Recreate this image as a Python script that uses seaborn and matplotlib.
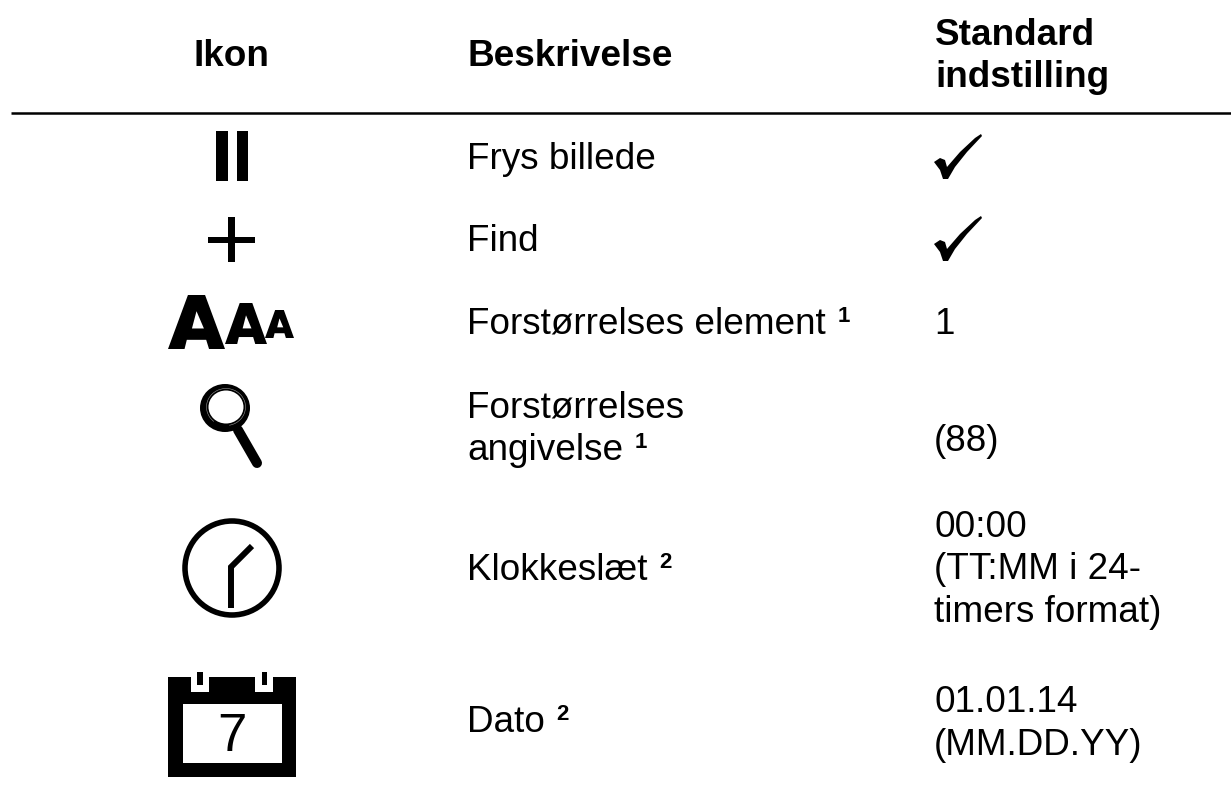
import seaborn as sns
import matplotlib.pyplot as plt
from matplotlib.patches import Rectangle, Circle, Ellipse, Arc, Polygon

# table content
headers = ['Ikon', 'Beskrivelse', 'Standard', 'indstilling']
descriptions = ['Frys billede', 'Find', 'Forstørrelses element', 'Forstørrelses', 'angivelse', 'Klokkeslæt', 'Dato']
footnotes = ['', '', '1', '', '1', '2', '2']
defaults = ['1', '(88)', '00:00', '(TT:MM i 24-', 'timers format)', '01.01.14', '(MM.DD.YY)']

# layout, baselines in pixels
desc_base = [169, 251, 334, 418, 460, 580, 732]
default_base = [334, 451, 537, 579, 622, 712, 755]
check_offsets = [0, 82]
check_shape = [[934, 162], [940, 158], [945, 160], [947, 167], [960, 152], [975, 138], [981, 134], [982, 136],
               [967, 152], [955, 167], [948, 179], [943, 179], [940, 170]]

sns.set_theme(style='white')
plt.rcParams['font.family'] = ['Liberation Sans', 'DejaVu Sans']

fig = plt.figure(figsize=(12.31, 7.86), dpi=100)
ax = fig.add_axes([0, 0, 1, 1])
ax.set_xlim(0, 1231)
ax.set_ylim(786, 0)
ax.axis('off')

sz = 26.6


def label(x, y, s, **kw):
    return ax.text(x, y, s, ha='left', va='baseline', fontsize=kw.pop('fontsize', sz), color='black', **kw)


def big_a(x0, x1, y0, y1):
    # heavy letter A built from its outline
    w = x1 - x0
    h = y1 - y0
    outer = [(0, 1), (.35, 0), (.65, 0), (1, 1), (.72, 1), (.67, .83), (.33, .83), (.29, 1)]
    hole = [(.5, .3), (.63, .62), (.42, .62)]
    ax.add_patch(Polygon([(x0 + a * w, y0 + b * h) for a, b in outer], closed=True, color='black', lw=0))
    ax.add_patch(Polygon([(x0 + a * w, y0 + b * h) for a, b in hole], closed=True, color='white', lw=0))


# header
label(194, 66, headers[0], fontweight='bold')
label(467, 66, headers[1], fontweight='bold')
label(935, 45, headers[2], fontweight='bold')
label(935, 87, headers[3], fontweight='bold')
ax.plot([11, 1231], [113, 113], color='black', lw=1.8, solid_capstyle='butt')

# description column with bold footnote marks
fig.canvas.draw()
rend = fig.canvas.get_renderer()
for d, n, y in zip(descriptions, footnotes, desc_base):
    t = label(467, y, d)
    if n:
        right = t.get_window_extent(rend).x1
        label(right + 11.5, y - 11.5, n, fontsize=16, fontweight='bold')

# default column
for d, y in zip(defaults, default_base):
    label(934, y, d)

# check marks
for off in check_offsets:
    ax.add_patch(Polygon([(a, b + off) for a, b in check_shape], closed=True, color='black', lw=0))

# pause
ax.add_patch(Rectangle((216, 131), 12, 50, color='black', lw=0))
ax.add_patch(Rectangle((237, 131), 11, 50, color='black', lw=0))
# plus
ax.add_patch(Rectangle((208, 237), 47, 6, color='black', lw=0))
ax.add_patch(Rectangle((228, 217), 7, 45, color='black', lw=0))
# AAA
big_a(168, 225, 295, 349)
big_a(225, 267, 303, 344)
big_a(265, 294, 310, 338)
# magnifier
ax.add_patch(Ellipse((225, 408), 50, 48, color='black', lw=0))
ax.add_patch(Ellipse((226, 407), 35, 33, color='white', lw=0))
ax.add_patch(Arc((226, 407), 39, 37, theta1=-230, theta2=80, color='#999999', lw=0.4))
ax.plot([238, 257], [430, 463], color='black', lw=7.2, solid_capstyle='round')
# clock
ax.add_patch(Circle((232, 568), 47, fill=False, ec='black', lw=4))
ax.plot([231, 231, 252], [608, 567, 546], color='black', lw=4.3, solid_joinstyle='miter', solid_capstyle='butt')
# calendar
ax.add_patch(Rectangle((168, 677), 128, 100, color='black', lw=0))
ax.add_patch(Rectangle((183, 704), 99, 59, color='white', lw=0))
ax.add_patch(Rectangle((191, 677), 18, 15, color='white', lw=0))
ax.add_patch(Rectangle((255, 677), 18, 15, color='white', lw=0))
ax.add_patch(Rectangle((197, 672), 6, 13, color='black', lw=0))
ax.add_patch(Rectangle((262, 672), 5, 13, color='black', lw=0))
ax.text(232, 751, '7', ha='center', va='baseline', fontsize=38, color='black')

fig.savefig('out.png', dpi=100)
